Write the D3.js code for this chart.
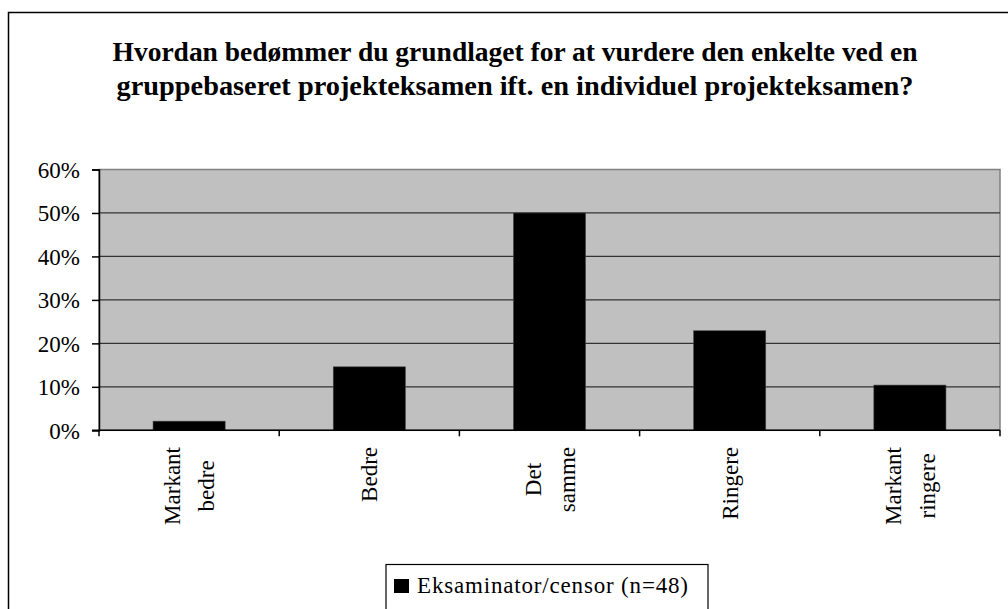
<!DOCTYPE html>
<html>
<head>
  <script src="https://cdnjs.cloudflare.com/ajax/libs/d3/7.8.5/d3.min.js"></script>
  <style>
    body { margin: 0; background: #fff; }
    text { font-family: "Liberation Serif"; fill: #000; }
    .grid-line { stroke: #333; stroke-width: 1.2; }
  </style>
</head>
<body>
  <div id="chart"></div>
  <script>
    // data (n=48)
    const categories = ["Markant bedre", "Bedre", "Det samme", "Ringere", "Markant ringere"];
    const labelLines = [["Markant", "bedre"], ["Bedre"], ["Det", "samme"], ["Ringere"], ["Markant", "ringere"]];
    const values = [2.1, 14.6, 50.0, 22.9, 10.4];
    const yTicks = [0, 10, 20, 30, 40, 50, 60];
    const titleLines = [
      "Hvordan bedømmer du grundlaget for at vurdere den enkelte ved en",
      "gruppebaseret projekteksamen ift. en individuel projekteksamen?"
    ];
    const seriesName = "Eksaminator/censor (n=48)";

    const W = 1008, H = 609;
    const serif = "Liberation Serif";
    const plot = {left: 99, right: 1000, top: 169.5, bottom: 430.3};

    const svg = d3.select("#chart").append("svg")
      .attr("width", W)
      .attr("height", H);

    // outer chart border
    svg.append("rect")
      .attr("x", 8.5).attr("y", 12.5)
      .attr("width", 1020).attr("height", 620)
      .attr("fill", "#fff")
      .attr("stroke", "#000")
      .attr("stroke-width", 1.5);

    // title
    svg.selectAll(".title")
      .data(titleLines)
      .join("text")
        .attr("class", "title")
        .attr("x", 515)
        .attr("y", (d, i) => 61 + i * 34)
        .attr("text-anchor", "middle")
        .attr("textLength", (d, i) => i === 0 ? 805 : 797)
        .attr("lengthAdjust", "spacingAndGlyphs")
        .style("font-family", serif)
        .style("font-size", "27px")
        .style("font-weight", "bold")
        .text(d => d);

    const x = d3.scaleBand()
      .domain(categories)
      .range([plot.left, plot.right])
      .paddingInner(0);

    const y = d3.scaleLinear()
      .domain([0, 60])
      .range([plot.bottom, plot.top]);

    // plot area
    svg.append("rect")
      .attr("x", plot.left).attr("y", plot.top)
      .attr("width", plot.right - plot.left)
      .attr("height", plot.bottom - plot.top)
      .attr("fill", "#c0c0c0")
      .attr("stroke", "#808080")
      .attr("stroke-width", 1.5);

    // gridlines
    svg.selectAll(".grid-line")
      .data(yTicks.filter(t => t > 0 && t < 60))
      .join("line")
        .attr("class", "grid-line")
        .attr("x1", plot.left).attr("x2", plot.right)
        .attr("y1", d => y(d)).attr("y2", d => y(d));

    // bars: gap width 150%
    const barW = x.bandwidth() / 2.5;
    svg.selectAll(".bar")
      .data(values)
      .join("rect")
        .attr("class", "bar")
        .attr("x", (d, i) => x(categories[i]) + (x.bandwidth() - barW) / 2)
        .attr("y", d => y(d))
        .attr("width", barW)
        .attr("height", d => y(0) - y(d))
        .attr("fill", "#000")
        .attr("stroke", "#444")
        .attr("stroke-width", 0.6);

    // y axis
    const yAxis = svg.append("g")
      .attr("transform", `translate(${plot.left},0)`)
      .attr("font-family", serif)
      .call(d3.axisLeft(y).tickValues(yTicks).tickSize(7).tickFormat(d => d + "%"));
    yAxis.attr("font-family", serif);
    yAxis.select(".domain").attr("stroke", "#000").attr("stroke-width", 1.5);
    yAxis.selectAll(".tick line").attr("stroke", "#000").attr("stroke-width", 1.5);
    yAxis.selectAll(".tick text")
      .attr("x", -19)
      .attr("dy", "0.34em")
      .style("font-family", serif)
      .style("font-size", "23px");

    // x axis with ticks at band edges
    const xEdges = categories.map(c => x(c)).concat([plot.right]);
    svg.append("line")
      .attr("x1", plot.left - 7).attr("x2", plot.right)
      .attr("y1", plot.bottom).attr("y2", plot.bottom)
      .attr("stroke", "#000").attr("stroke-width", 1.5);
    svg.selectAll(".x-tick")
      .data(xEdges)
      .join("line")
        .attr("class", "x-tick")
        .attr("x1", d => d).attr("x2", d => d)
        .attr("y1", plot.bottom).attr("y2", plot.bottom + 6)
        .attr("stroke", "#000").attr("stroke-width", 1.5);

    // rotated category labels, lines centred on the longest one
    const labelTop = 447;
    const lineGap = 34;
    categories.forEach((c, i) => {
      const lines = labelLines[i];
      const cx = x(c) + x.bandwidth() / 2;
      const g = svg.append("g");
      const texts = lines.map((ln, j) => {
        const base = cx + 8 + (j - (lines.length - 1) / 2) * lineGap;
        return g.append("text")
          .attr("transform", `translate(${base},0) rotate(-90)`)
          .attr("text-anchor", "middle")
          .style("font-family", serif)
          .style("font-size", "23px")
          .text(ln);
      });
      const maxLen = d3.max(texts, t => t.node().getComputedTextLength());
      const mid = labelTop + maxLen / 2;
      texts.forEach((t, j) => {
        const base = cx + 8 + (j - (lines.length - 1) / 2) * lineGap;
        t.attr("transform", `translate(${base},${mid}) rotate(-90)`);
      });
    });

    // legend
    const legend = svg.append("g");
    legend.append("rect")
      .attr("x", 386).attr("y", 564.5)
      .attr("width", 322).attr("height", 60)
      .attr("fill", "#fff")
      .attr("stroke", "#000")
      .attr("stroke-width", 1.2);
    legend.append("rect")
      .attr("x", 394).attr("y", 579)
      .attr("width", 15).attr("height", 14)
      .attr("fill", "#000");
    legend.append("text")
      .attr("x", 417).attr("y", 593)
      .attr("textLength", 271)
      .attr("lengthAdjust", "spacing")
      .style("font-family", serif)
      .style("font-size", "23px")
      .text(seriesName);
  </script>
</body>
</html>
